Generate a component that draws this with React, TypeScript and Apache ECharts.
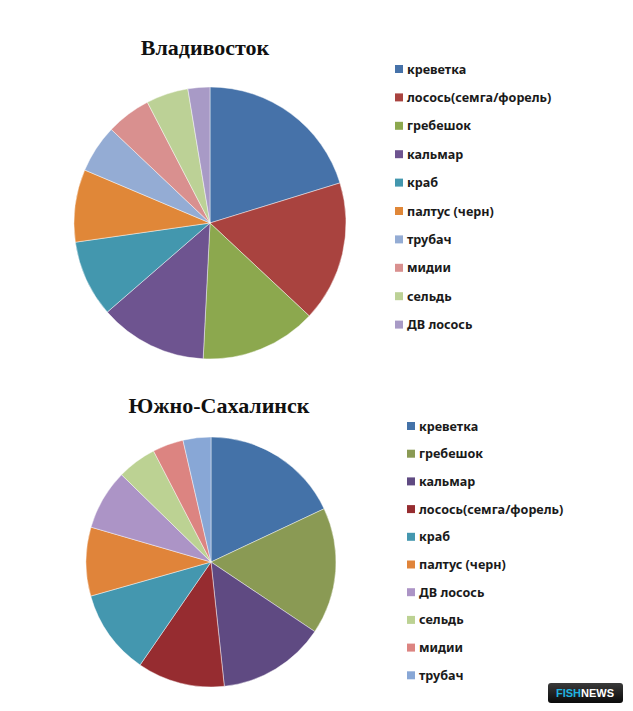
import React, { useEffect, useRef } from "react";
import * as echarts from "echarts";

const titleTop = "Владивосток";
const titleBottom = "Южно-Сахалинск";

const catsTop = [
  "креветка",
  "лосось(семга/форель)",
  "гребешок",
  "кальмар",
  "краб",
  "палтус (черн)",
  "трубач",
  "мидии",
  "сельдь",
  "ДВ лосось",
];
const valsTop = [20.2, 16.7, 13.8, 12.8, 9.1, 8.6, 5.7, 5.3, 5.0, 2.6];
const colorsTop = [
  "#4672A9",
  "#A9433F",
  "#8CA84E",
  "#6E5490",
  "#4397AE",
  "#E08738",
  "#94ACD4",
  "#D9908F",
  "#BCD196",
  "#A89AC6",
];

const catsBottom = [
  "креветка",
  "гребешок",
  "кальмар",
  "лосось(семга/форель)",
  "краб",
  "палтус (черн)",
  "ДВ лосось",
  "сельдь",
  "мидии",
  "трубач",
];
const valsBottom = [18.0, 16.4, 13.9, 11.3, 11.0, 8.9, 7.8, 5.1, 4.0, 3.6];
const colorsBottom = [
  "#4472A8",
  "#8A9A54",
  "#5F4A82",
  "#962C30",
  "#4497AF",
  "#E0843A",
  "#AC94C6",
  "#BCD293",
  "#DC8481",
  "#88A7D6",
];

function legendGraphics(names: string[], colors: string[], x0: number, y0: number, step: number) {
  const els: any[] = [];
  names.forEach((n, i) => {
    const y = y0 + i * step;
    els.push({
      type: "rect",
      shape: { x: x0, y: y - 4, width: 8, height: 8 },
      style: { fill: colors[i] },
    });
    els.push({
      type: "text",
      x: x0 + 12,
      y: y,
      style: {
        text: n,
        fill: "#1a1a1a",
        font: "bold 12.6px 'Noto Sans'",
        textVerticalAlign: "middle",
        textAlign: "left",
      },
    });
  });
  return els;
}

export default function App() {
  const ref = useRef<HTMLDivElement>(null);
  useEffect(() => {
    document.body.style.margin = "0";
    const chart = echarts.init(ref.current!, undefined, { renderer: "svg" });
    const mk = (names: string[], vals: number[], colors: string[]) =>
      names.map((n, i) => ({ name: n, value: vals[i], itemStyle: { color: colors[i] } }));
    chart.setOption({
      animation: false,
      backgroundColor: "#ffffff",
      title: [
        {
          text: titleTop,
          left: 200,
          top: 31,
          textAlign: "center",
          textStyle: { fontFamily: "'Liberation Serif'", fontWeight: "bold", fontSize: 22, color: "#111" },
        },
        {
          text: titleBottom,
          left: 214,
          top: 389,
          textAlign: "center",
          textStyle: { fontFamily: "'Liberation Serif'", fontWeight: "bold", fontSize: 22, color: "#111" },
        },
      ],
      series: [
        {
          type: "pie",
          center: [210, 223],
          radius: 136,
          startAngle: 90,
          clockwise: true,
          label: { show: false },
          labelLine: { show: false },
          emphasis: { disabled: true },
          itemStyle: { borderColor: "rgba(255,255,255,0.55)", borderWidth: 0.8 },
          data: mk(catsTop, valsTop, colorsTop),
        },
        {
          type: "pie",
          center: [211, 562],
          radius: 125,
          startAngle: 90,
          clockwise: true,
          label: { show: false },
          labelLine: { show: false },
          emphasis: { disabled: true },
          itemStyle: { borderColor: "rgba(255,255,255,0.55)", borderWidth: 0.8 },
          data: mk(catsBottom, valsBottom, colorsBottom),
        },
      ],
      graphic: [
        ...legendGraphics(catsTop, colorsTop, 395, 69, 28.4),
        ...legendGraphics(catsBottom, colorsBottom, 407, 426, 27.7),
        {
          type: "rect",
          shape: { x: 548, y: 683, width: 75, height: 20, r: 3 },
          style: {
            fill: new echarts.graphic.LinearGradient(0, 0, 0, 1, [
              { offset: 0, color: "#3a3a3a" },
              { offset: 1, color: "#0a0a0a" },
            ]),
          },
        },
        {
          type: "text",
          x: 585,
          y: 693,
          style: {
            text: "{a|FISH}{b|NEWS}",
            textAlign: "center",
            textVerticalAlign: "middle",
            rich: {
              a: { fill: "#1fb3e0", font: "bold 11px 'Liberation Sans'" },
              b: { fill: "#ffffff", font: "bold 11px 'Liberation Sans'" },
            },
          },
        },
      ],
    });
    return () => chart.dispose();
  }, []);
  return (
    <div
      ref={ref}
      style={{ position: "absolute", left: 0, top: 0, width: 633, height: 711 }}
    />
  );
}
